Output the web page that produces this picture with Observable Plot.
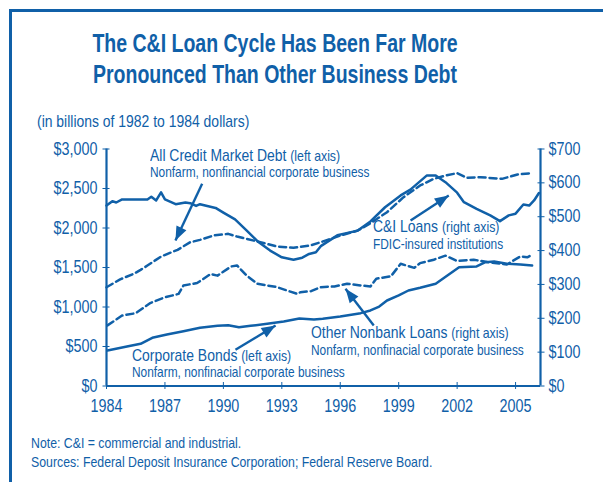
<!DOCTYPE html>
<html><head><meta charset="utf-8">
<script src="https://cdn.jsdelivr.net/npm/d3@7"></script>
<script src="https://cdn.jsdelivr.net/npm/@observablehq/plot@0.6"></script>
<style>
body{margin:0;background:#fff;}
#page{position:relative;width:603px;height:482px;overflow:hidden;font-family:"Liberation Sans",Arial,sans-serif;color:#1060a8;}
.frameL{position:absolute;left:9px;top:9px;width:3px;height:480px;background:#1060a8}
.frameT{position:absolute;left:9px;top:9px;width:600px;height:3px;background:#1060a8}
#title{position:absolute;left:0;width:550px;top:27.5px;text-align:center;font-weight:bold;font-size:25px;line-height:31px;transform:scaleX(0.78);transform-origin:275px 0;white-space:nowrap}
#sub{position:absolute;left:37px;font-size:17px;line-height:14px;white-space:nowrap;transform:scaleX(0.82);transform-origin:0 0}
#chart{position:absolute;left:0;top:135px;}
.ann{position:absolute;line-height:14px;white-space:nowrap;transform:scaleX(0.82);transform-origin:0 0}
.ann small{font-size:15px;line-height:14px}
.note{position:absolute;left:31px;font-size:15px;line-height:14px;white-space:nowrap;transform:scaleX(0.82);transform-origin:0 0}
</style>
</head>
<body>
<div id="page">
  <div class="frameL"></div><div class="frameT"></div>
  <div id="title">The C&amp;I Loan Cycle Has Been Far More<br>Pronounced Than Other Business Debt</div>
  <div id="sub">(in billions of 1982 to 1984 dollars)</div>
  <div id="chart"></div>
  <div class="note" id="note1">Note: C&amp;I = commercial and industrial.</div>
  <div class="note" id="note2">Sources: Federal Deposit Insurance Corporation; Federal Reserve Board.</div>
</div>
<script>
// ---- data ----
// C&I Loans, FDIC-insured institutions (right axis, $bn)
const ciYears = [1984.0,1984.3,1984.5,1984.8,1986.1,1986.3,1986.55,1986.8,1987.0,1987.55,1988.05,1988.3,1988.6,1988.8,1989.6,1990.0,1990.6,1991.2,1991.8,1992.4,1993.0,1993.6,1994.05,1994.4,1994.75,1995.0,1995.85,1996.9,1997.55,1998.3,1999.1,1999.6,2000.45,2000.9,2001.4,2002.0,2002.35,2003.0,2003.7,2004.2,2004.65,2005.0,2005.4,2005.7,2005.95,2006.2];
const ciLoans = [533,546,542,551,551,559,548,572,551,537,542,540,532,537,526,512,492,459,425,400,380,373,379,390,395,413,445,459,486,528,563,580,622,622,602,571,543,523,504,487,504,509,536,533,548,570];
// All Credit Market Debt, nonfarm nonfinancial corporate business (left axis, $bn)
const debtYears = [1984.0,1984.7,1985.4,1985.75,1986.1,1986.5,1986.8,1987.65,1988.3,1988.8,1989.5,1990.25,1990.7,1991.2,1991.9,1992.75,1993.6,1994.45,1995.0,1995.85,1996.9,1997.55,1998.4,1999.25,2000.1,2000.8,2001.4,2002.0,2002.5,2003.2,2004.3,2005.1,2005.85];
const creditMarketDebt = [1250,1350,1420,1470,1525,1590,1639,1724,1820,1850,1905,1926,1892,1863,1820,1766,1749,1778,1820,1892,1968,2061,2200,2390,2538,2622,2664,2694,2635,2643,2622,2677,2694];
// Other Nonbank Loans (right axis, $bn)
const nbYears = [1984.05,1984.8,1985.5,1986.25,1987.0,1987.7,1987.95,1988.65,1989.35,1989.7,1990.4,1990.7,1991.2,1991.75,1992.75,1993.8,1993.95,1994.5,1995.0,1995.7,1996.35,1997.05,1997.55,1997.85,1998.6,1999.1,1999.8,2000.1,2000.8,2001.4,2002.0,2002.85,2003.55,2004.55,2005.25,2005.6,2005.85];
const otherNonbankLoans = [179,208,215,245,262,272,297,304,331,326,353,356,326,302,292,272,277,280,292,294,302,297,294,317,324,361,349,363,373,385,369,373,366,359,383,380,388];
// Corporate Bonds (left axis, $bn)
const bondYears = [1984.05,1985.05,1985.75,1986.35,1987.1,1987.95,1988.8,1989.7,1990.25,1990.8,1991.4,1992.25,1993.1,1993.9,1994.65,1995.1,1996.0,1997.05,1997.55,1998.0,1998.4,1999.0,1999.5,2000.1,2000.9,2001.5,2002.1,2003.0,2003.45,2003.9,2004.55,2005.25,2005.85];
const corporateBonds = [449,500,534,610,652,694,737,762,770,744,762,787,816,854,842,850,880,922,956,1006,1082,1146,1209,1243,1294,1399,1504,1513,1567,1576,1547,1538,1525];

// axes
const xTicks = [1984,1987,1990,1993,1996,1999,2002,2005];
const leftTicks = [0,500,1000,1500,2000,2500,3000];
const rightTicks = [0,100,200,300,400,500,600,700];
const xDomain = [1984, 2006.28];
const leftDomain = [0, 3000];
const rightMax = 700;

// annotations: arrows (tail -> tip, in chart coordinates, left-axis units)
const arrowTailX = [1988.91, 1999.61, 1990.62, 1997.72];
const arrowTailY = [2559, 2095, 458, 766];
const arrowTipX  = [1987.54, 2001.57, 1992.68, 1996.27];
const arrowTipY  = [1842, 2411, 766, 1230];

const blue = "#1060a8";
const K = leftDomain[1] / rightMax; // right-axis -> left-axis units
const rows = (xs, ys, f = 1) => xs.map((x, i) => ({x, y: ys[i] * f}));

const W = 603, H = 295, mL = 106, mR = 63, mT = 13.5, mB = 44.5;
const pw = W - mL - mR, ph = H - mT - mB;
const arrows = arrowTailX.map((x1, i) => {
  const dx = (arrowTipX[i] - x1) / (xDomain[1] - xDomain[0]) * pw;
  const dy = -(arrowTipY[i] - arrowTailY[i]) / (leftDomain[1] - leftDomain[0]) * ph;
  return {x1, y1: arrowTailY[i], x2: arrowTipX[i], y2: arrowTipY[i], rot: Math.atan2(dx, -dy) * 180 / Math.PI};
});
const head = {draw(ctx) { ctx.moveTo(0, 0); ctx.lineTo(-5.5, 14); ctx.lineTo(5.5, 14); ctx.closePath(); }};

const font = '"Liberation Sans",Arial,sans-serif';
const lineOpts = {x: "x", y: "y", stroke: blue, strokeWidth: 2.5};
const dashOpts = {...lineOpts, strokeDasharray: "7,4"};

const chart = Plot.plot({
  width: W, height: H, marginLeft: mL, marginRight: mR, marginTop: mT, marginBottom: mB,
  x: {domain: xDomain},
  y: {domain: leftDomain},
  style: {fontFamily: font, color: blue, background: "transparent", overflow: "visible"},
  marks: [
    Plot.ruleX([xDomain[0], xDomain[1]], {stroke: blue, strokeWidth: 2.2}),
    Plot.ruleY([0], {stroke: blue, strokeWidth: 2.2}),
    Plot.axisY(leftTicks, {anchor: "left", label: null, tickSize: 7, dx: 3.5, tickPadding: 5.5, fontSize: 17.5, color: blue, tickFormat: d => "$" + d3.format(",")(d)}),
    Plot.axisY(rightTicks.map(v => v * K), {anchor: "right", label: null, tickSize: 7, dx: -3.5, tickPadding: 4.5, fontSize: 17.5, color: blue, tickFormat: d => "$" + Math.round(d / K)}),
    Plot.axisX(xTicks, {anchor: "bottom", label: null, tickSize: 7, dy: -3.5, tickPadding: 10, fontSize: 17.5, color: blue, tickFormat: d => String(d)}),
    Plot.line(rows(debtYears, creditMarketDebt), dashOpts),
    Plot.line(rows(nbYears, otherNonbankLoans, K), dashOpts),
    Plot.line(rows(bondYears, corporateBonds), lineOpts),
    Plot.line(rows(ciYears, ciLoans, K), lineOpts),
    Plot.link(arrows, {x1: "x1", y1: "y1", x2: "x2", y2: "y2", stroke: blue, strokeWidth: 2.4}),
    Plot.dot(arrows, {x: "x2", y: "y2", symbol: head, rotate: "rot", fill: blue, stroke: "none"})
  ]
});
document.getElementById("chart").appendChild(chart);
// condense the SVG tick labels (narrow typeface look)
chart.querySelectorAll("text").forEach(t => {
  const L = t.getComputedTextLength();
  if (L > 0) { t.setAttribute("textLength", L * 0.82); t.setAttribute("lengthAdjust", "spacingAndGlyphs"); }
});

// text overlays (line-height 14px: baseline = top + 7 + 0.3465*fs)
const page = document.getElementById("page");
function place(el, baseline, fs) { el.style.top = (baseline - 7 - 0.3465 * fs) + "px"; }
place(document.getElementById("sub"), 128, 17);
place(document.getElementById("note1"), 448, 15);
place(document.getElementById("note2"), 467, 15);
function label(x, baseline, html, fs) {
  const d = document.createElement("div");
  d.className = "ann";
  d.style.left = x + "px";
  d.style.fontSize = fs + "px";
  place(d, baseline, fs);
  d.innerHTML = html;
  page.appendChild(d);
}
label(150, 161.7, 'All Credit Market Debt <small>(left axis)</small>', 17);
label(150, 176.7, 'Nonfarm, nonfinancial corporate business', 14.5);
label(373, 233.3, 'C&amp;I Loans <small>(right axis)</small>', 17);
label(373, 249, 'FDIC-insured institutions', 14.5);
label(131.7, 361.7, 'Corporate Bonds <small>(left axis)</small>', 17);
label(131.7, 377.3, 'Nonfarm, nonfinacial corporate business', 14.5);
label(310.7, 339, 'Other Nonbank Loans <small>(right axis)</small>', 17);
label(310.7, 355, 'Nonfarm, nonfinacial corporate business', 14.5);
</script>
</body></html>
